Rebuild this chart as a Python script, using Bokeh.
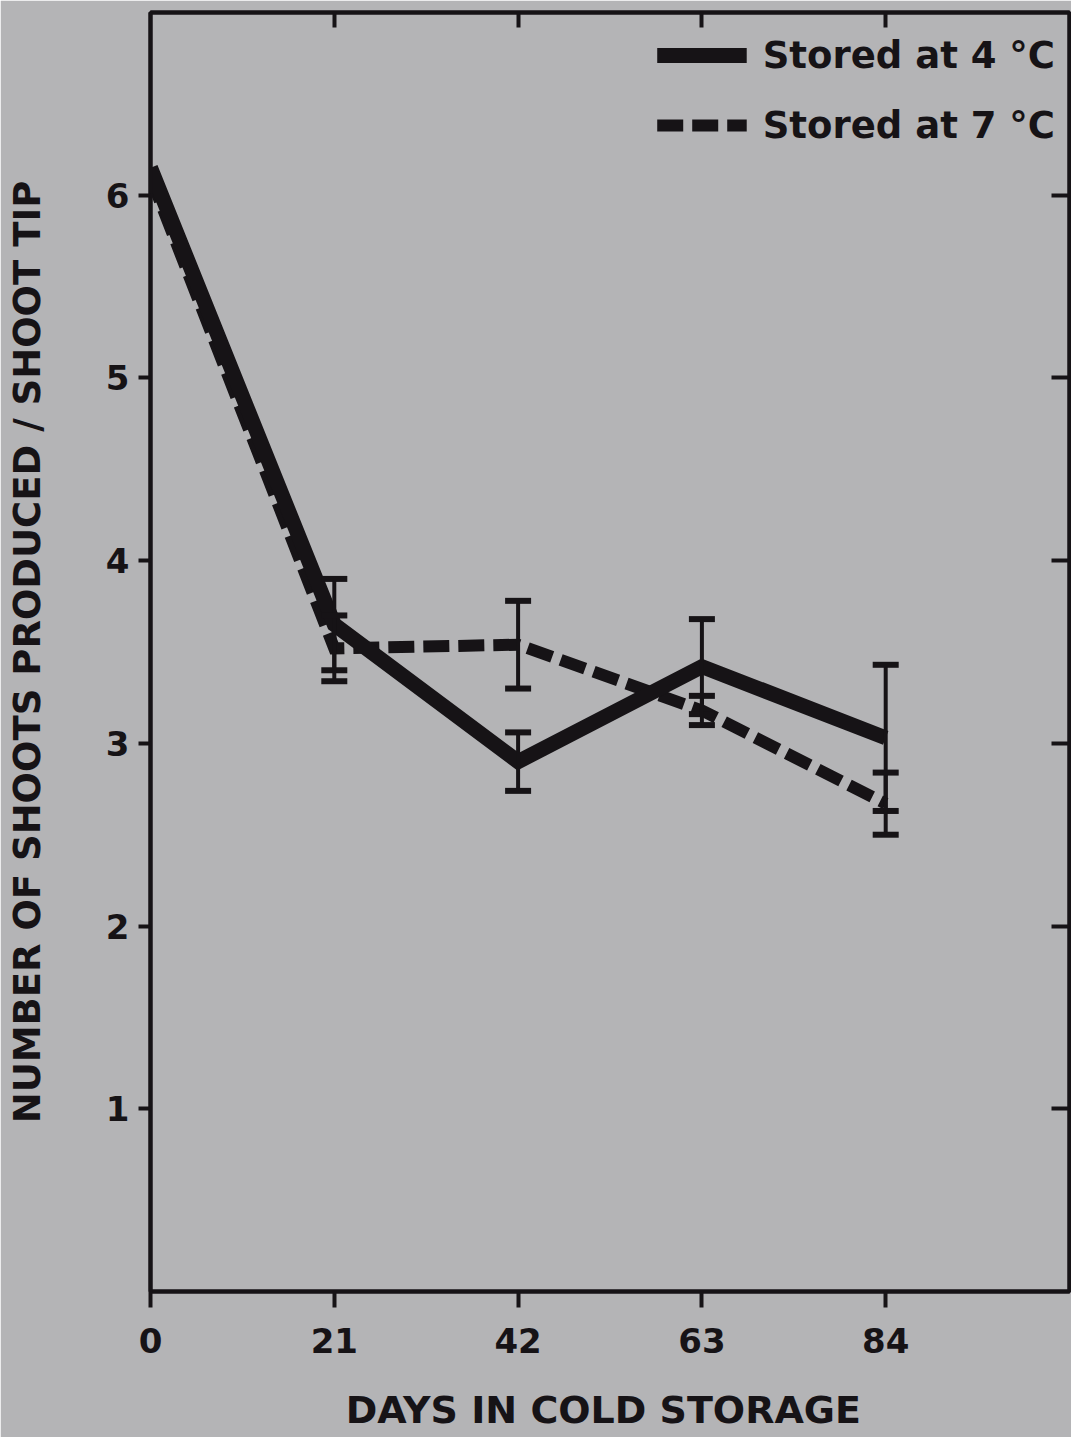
from bokeh.plotting import figure
from bokeh.models import (ColumnDataSource, Whisker, TeeHead, LinearAxis, FixedTicker,
                          Legend, LegendItem, Range1d)
from bokeh.embed import file_html
from bokeh.resources import INLINE

# ---- data ----
days = [0, 21, 42, 63, 84]
shoots_4c = [6.15, 3.65, 2.90, 3.42, 3.03]
err_4c = [0.0, 0.25, 0.16, 0.26, 0.40]
shoots_7c = [6.10, 3.52, 3.54, 3.18, 2.67]
err_7c = [0.0, 0.18, 0.24, 0.08, 0.17]
x_ticks = [0, 21, 42, 63, 84]
y_ticks = [1, 2, 3, 4, 5, 6]
series_labels = ["Stored at 4 °C", "Stored at 7 °C"]
x_title = "DAYS  IN COLD STORAGE"
y_title = "NUMBER OF SHOOTS PRODUCED / SHOOT TIP"

INK = "#161316"
BG = "#b4b4b6"
FONT = "DejaVu Sans"

W, H = 1071, 1437
p = figure(width=W, height=H, x_range=Range1d(0, 105), y_range=Range1d(0, 7),
           output_backend="svg", toolbar_location=None,
           min_border_left=150, min_border_top=12, min_border_bottom=146, min_border_right=2,
           background_fill_color=BG, border_fill_color=BG)
p.grid.visible = False
p.outline_line_color = INK
p.outline_line_width = 4

def style_axis(ax):
    ax.axis_line_color = INK
    ax.axis_line_width = 4
    ax.major_tick_line_color = INK
    ax.major_tick_line_width = 4
    ax.minor_tick_line_color = None
    ax.major_label_text_color = INK
    ax.major_label_text_font = FONT
    ax.major_label_text_font_style = "bold"
    ax.major_label_text_font_size = "34px"
    ax.axis_label_text_color = INK
    ax.axis_label_text_font = FONT
    ax.axis_label_text_font_style = "bold"
    ax.axis_label_text_font_size = "37px"

xa = p.xaxis[0]
style_axis(xa)
xa.ticker = FixedTicker(ticks=x_ticks)
xa.major_tick_in = 0
xa.major_tick_out = 16
xa.major_label_standoff = 20
xa.axis_label = x_title
xa.axis_label_text_font_size = "38px"
xa.axis_label_standoff = 32

ya = p.yaxis[0]
style_axis(ya)
ya.ticker = FixedTicker(ticks=y_ticks)
ya.major_tick_in = 0
ya.major_tick_out = 12
ya.major_label_standoff = 9
ya.axis_label = y_title
ya.axis_label_standoff = 54

# mirror axes (ticks only, pointing inward, no labels)
ra = LinearAxis(ticker=FixedTicker(ticks=y_ticks))
style_axis(ra)
ra.major_tick_in = 18
ra.major_tick_out = 0
ra.major_label_overrides = {t: "" for t in y_ticks}
ra.major_label_standoff = 0
p.add_layout(ra, "right")

ta = LinearAxis(ticker=FixedTicker(ticks=x_ticks[1:]))
style_axis(ta)
ta.major_tick_in = 15
ta.major_tick_out = 0
ta.major_label_overrides = {t: "" for t in x_ticks}
ta.major_label_standoff = 0
p.add_layout(ta, "above")

# ---- lines ----
src7 = ColumnDataSource(dict(x=days, y=shoots_7c))
src4 = ColumnDataSource(dict(x=days, y=shoots_4c))
r7 = p.line("x", "y", source=src7, line_color=INK, line_width=12, line_dash="26 9",
            line_cap="butt", line_join="miter")
r4 = p.line("x", "y", source=src4, line_color=INK, line_width=15, line_join="miter")

# ---- error bars ----
def whisker_source(vals, errs):
    xs, up, lo = [], [], []
    for d, v, e in zip(days, vals, errs):
        if e > 0:
            xs.append(d)
            up.append(v + e)
            lo.append(v - e)
    return ColumnDataSource(dict(x=xs, upper=up, lower=lo))

for vals, errs in [(shoots_4c, err_4c), (shoots_7c, err_7c)]:
    w = Whisker(source=whisker_source(vals, errs), base="x", upper="upper", lower="lower",
                line_color=INK, line_width=4,
                upper_head=TeeHead(size=26, line_color=INK, line_width=6),
                lower_head=TeeHead(size=26, line_color=INK, line_width=6))
    w.level = "glyph"
    p.add_layout(w)

# ---- legend ----
legend = Legend(items=[LegendItem(label=series_labels[0], renderers=[r4]),
                       LegendItem(label=series_labels[1], renderers=[r7])],
                location="top_right", glyph_width=90, glyph_height=58, label_height=58,
                spacing=12, padding=14, margin=0, label_standoff=16,
                border_line_alpha=0, background_fill_alpha=0,
                label_text_font=FONT, label_text_font_style="bold",
                label_text_font_size="37px", label_text_color=INK)
p.add_layout(legend)

open("out.html", "w").write(file_html(p, INLINE))
